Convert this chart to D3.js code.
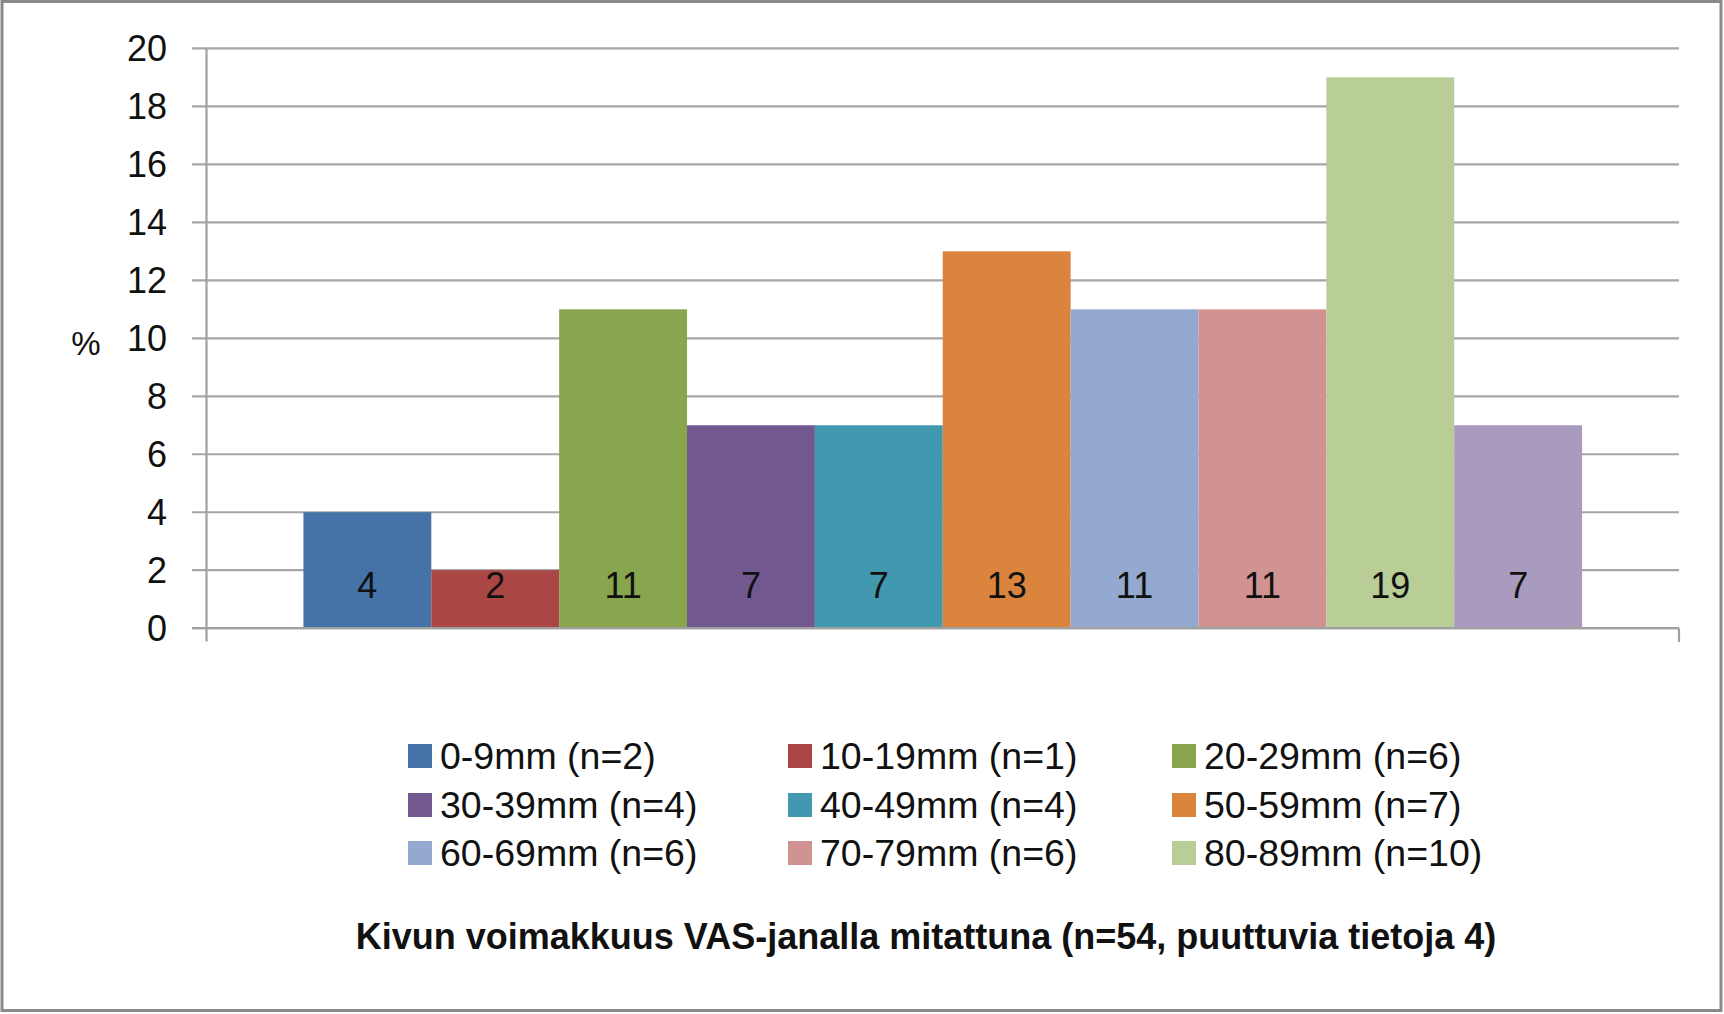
<!DOCTYPE html>
<html>
<head>
<meta charset="utf-8">
<script src="https://cdnjs.cloudflare.com/ajax/libs/d3/7.8.5/d3.min.js"></script>
<style>
  html, body { margin: 0; padding: 0; background: #fff; }
  svg { display: block; }
  text { font-family: "Liberation Sans", Arial, sans-serif; }
</style>
</head>
<body>
<svg id="chart" width="1724" height="1014"></svg>
<script>
// ---- data ----
const categories = ["0-9mm", "10-19mm", "20-29mm", "30-39mm", "40-49mm",
                    "50-59mm", "60-69mm", "70-79mm", "80-89mm", "90-100mm"];
const values = [4, 2, 11, 7, 7, 13, 11, 11, 19, 7];
const counts = [2, 1, 6, 4, 4, 7, 6, 6, 10];          // legend shows the first nine only
const colors = ["#4572A7", "#AA4643", "#89A54E", "#71588F", "#4198AF",
                "#DB843D", "#93A9CF", "#D19392", "#B9CD96", "#A99BBD"];
const yTicks = [0, 2, 4, 6, 8, 10, 12, 14, 16, 18, 20];
const yLabel = "%";
const title = "Kivun voimakkuus VAS-janalla  mitattuna (n=54, puuttuvia tietoja 4)";

// ---- layout ----
const svg = d3.select("#chart");
const W = 1724, H = 1014;
const plot = { left: 206.5, right: 1679, top: 48.4, bottom: 628.2 };

svg.append("rect").attr("x", 0).attr("y", 0).attr("width", W).attr("height", H).attr("fill", "#fff");
svg.append("rect").attr("x", 2).attr("y", 1.5).attr("width", 1719).attr("height", 1009)
  .attr("fill", "none").attr("stroke", "#8a8a8a").attr("stroke-width", 3);

const y = d3.scaleLinear().domain([0, 20]).range([plot.bottom, plot.top]);
const x = d3.scaleBand().domain(categories).range([plot.left, plot.right])
  .paddingInner(0).paddingOuter(0.758);

// gridlines (with left tick stubs)
const grid = svg.append("g");
grid.selectAll("line").data(yTicks).join("line")
  .attr("x1", 192).attr("x2", plot.right)
  .attr("y1", d => y(d)).attr("y2", d => y(d))
  .attr("stroke", "#a6a6a6").attr("stroke-width", 2.2);

// y tick labels via axis
const yAxis = d3.axisLeft(y).tickValues(yTicks).tickSize(0).tickPadding(0).tickFormat(d3.format("d"));
const ya = svg.append("g").attr("transform", `translate(167,0)`).call(yAxis);
ya.select(".domain").remove();
ya.selectAll("text").attr("font-size", 36).attr("fill", "#111")
  .attr("font-family", "'Liberation Sans', Arial, sans-serif").attr("dy", "0.33em");

// bars
svg.append("g").selectAll("rect").data(values).join("rect")
  .attr("x", (d, i) => x(categories[i]))
  .attr("width", x.bandwidth())
  .attr("y", d => y(d))
  .attr("height", d => y(0) - y(d))
  .attr("fill", (d, i) => colors[i]);

// axis lines
svg.append("line").attr("x1", plot.left).attr("x2", plot.left).attr("y1", plot.top).attr("y2", 641.5)
  .attr("stroke", "#a0a0a0").attr("stroke-width", 2.2);
svg.append("line").attr("x1", 192).attr("x2", plot.right).attr("y1", y(0)).attr("y2", y(0))
  .attr("stroke", "#a0a0a0").attr("stroke-width", 2.2);
svg.append("line").attr("x1", plot.right).attr("x2", plot.right).attr("y1", y(0)).attr("y2", 642)
  .attr("stroke", "#a0a0a0").attr("stroke-width", 2.2);

// value labels
svg.append("g").selectAll("text").data(values).join("text")
  .attr("x", (d, i) => x(categories[i]) + x.bandwidth() / 2)
  .attr("y", y(0) - 30)
  .attr("text-anchor", "middle").attr("font-size", 36).attr("fill", "#111")
  .text(d => d);

// y label
svg.append("text").attr("x", 86).attr("y", 355).attr("text-anchor", "middle")
  .attr("font-size", 33).attr("fill", "#111").text(yLabel);

// legend
const colX = [408, 788, 1172];
const rowY = [756, 805, 853];
const leg = svg.append("g");
counts.forEach((n, i) => {
  const cx = colX[i % 3], cy = rowY[Math.floor(i / 3)];
  leg.append("rect").attr("x", cx).attr("y", cy - 12).attr("width", 24).attr("height", 24).attr("fill", colors[i]);
  leg.append("text").attr("x", cx + 32).attr("y", cy + 13).attr("font-size", 37.5).attr("fill", "#111")
    .text(`${categories[i]} (n=${n})`);
});

// title
svg.append("text").attr("x", 926).attr("y", 949).attr("text-anchor", "middle")
  .attr("font-size", 36).attr("font-weight", "bold").attr("fill", "#111").text(title);
</script>
</body>
</html>
